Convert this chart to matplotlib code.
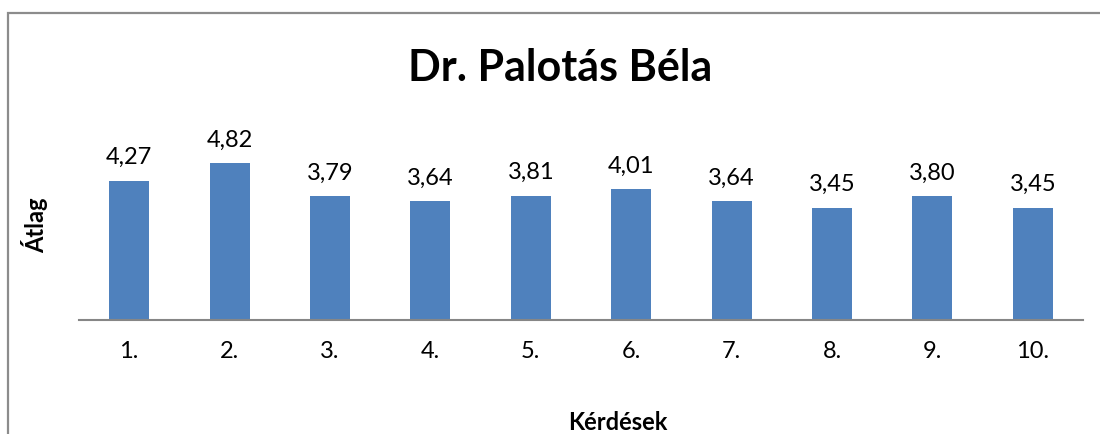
import matplotlib.pyplot as plt
from matplotlib.patches import Rectangle

# chart values
kerdesek = ['1.', '2.', '3.', '4.', '5.', '6.', '7.', '8.', '9.', '10.']
atlag = [4.27, 4.82, 3.79, 3.64, 3.81, 4.01, 3.64, 3.45, 3.80, 3.45]

plt.rcParams['font.family'] = ['Lato', 'DejaVu Sans']

W, H = 1100, 434
fig = plt.figure(figsize=(11, 4.34), dpi=100)

# outer chart border (cropped at right and bottom)
fig.patches.append(Rectangle((8 / W, -0.05), 1.2, (434 - 13) / H + 0.05,
                             transform=fig.transFigure, fill=False,
                             edgecolor='#8c8c8c', linewidth=1.6))

ax = fig.add_axes([79 / W, (434 - 320) / H, (1083 - 79) / W, 195.6 / H])
x = range(len(kerdesek))
bars = ax.bar(x, atlag, width=0.4, color='#4f81bd')
ax.set_xlim(-0.5, 9.5)
ax.set_ylim(0, 6)

for spine in ['top', 'right', 'left']:
    ax.spines[spine].set_visible(False)
ax.spines['bottom'].set_color('#868686')
ax.spines['bottom'].set_linewidth(1.5)
ax.set_yticks([])
ax.set_xticks(list(x))
ax.set_xticklabels(kerdesek, fontsize=17)
ax.tick_params(axis='x', length=0, pad=15)

for b, v in zip(bars, atlag):
    ax.annotate(('%.2f' % v).replace('.', ','), (b.get_x() + b.get_width() / 2, v),
                xytext=(0, 9), textcoords='offset points',
                ha='center', va='bottom', fontsize=17)

fig.text(560 / W, 1 - 68 / H, 'Dr. Palotás Béla', ha='center', va='center',
         fontsize=31, fontweight='bold')
fig.text(35 / W, 1 - 225 / H, 'Átlag', ha='center', va='center',
         rotation=90, fontsize=17, fontweight='bold')
fig.text(618 / W, 1 - 422 / H, 'Kérdések', ha='center', va='center',
         fontsize=17, fontweight='bold')

fig.savefig('out.png', dpi=100)
